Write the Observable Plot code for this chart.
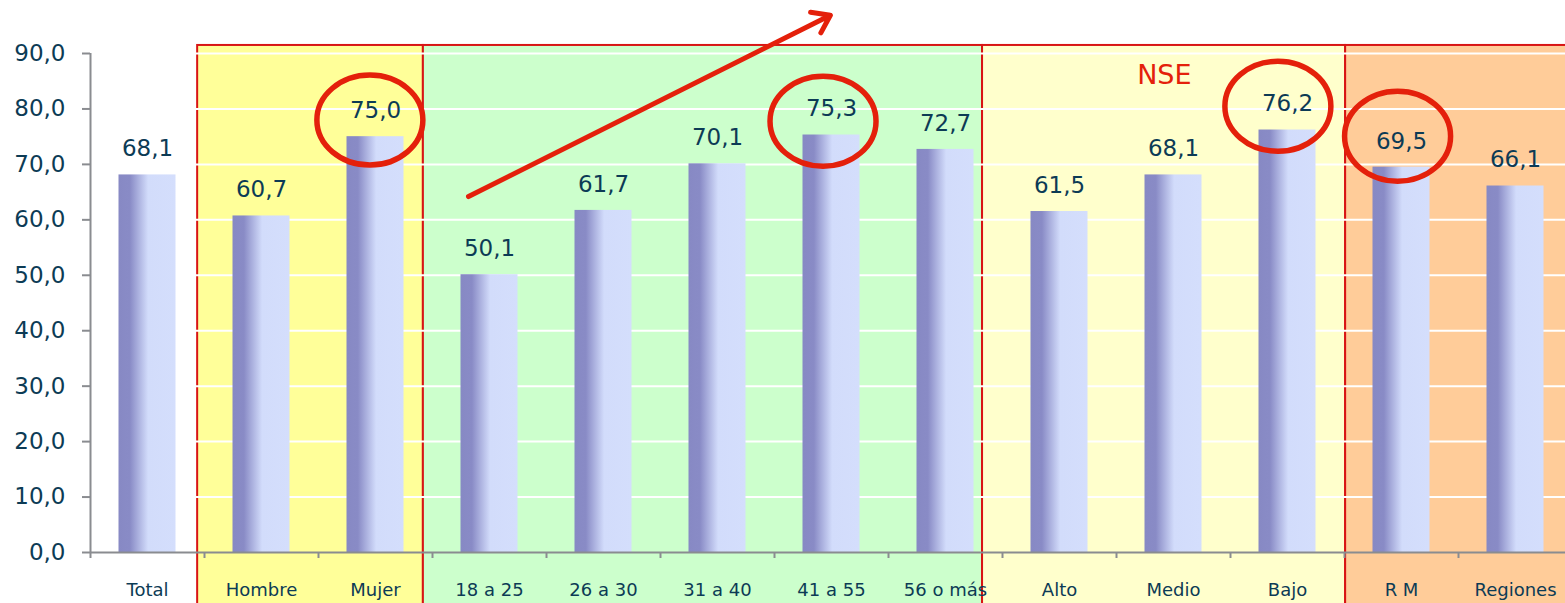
<!DOCTYPE html>
<html>
<head>
<meta charset="utf-8">
<script src="https://cdn.jsdelivr.net/npm/d3@7"></script>
<script src="https://cdn.jsdelivr.net/npm/@observablehq/plot@0.6"></script>
<style>
  html, body { margin: 0; padding: 0; background: #fff; overflow: hidden; }
  #chart svg { display: block; max-width: none !important; width: 1572px !important; height: 603px !important; }
</style>
</head>
<body>
<svg width="0" height="0" style="position:absolute">
  <defs>
    <linearGradient id="barGrad" x1="0" x2="1" y1="0" y2="0">
      <stop offset="0" stop-color="#8789c4"/>
      <stop offset="0.2" stop-color="#898bc6"/>
      <stop offset="0.52" stop-color="#d2dcfb"/>
      <stop offset="1" stop-color="#d4defc"/>
    </linearGradient>
  </defs>
</svg>
<div id="chart"></div>
<script>
// Categories and values
const categories = ["Total", "Hombre", "Mujer", "18 a 25", "26 a 30", "31 a 40", "41 a 55", "56 o más", "Alto", "Medio", "Bajo", "R M", "Regiones"];
const values = [68.1, 60.7, 75.0, 50.1, 61.7, 70.1, 75.3, 72.7, 61.5, 68.1, 76.2, 69.5, 66.1];
const yTicks = [0, 10, 20, 30, 40, 50, 60, 70, 80, 90];

// Group boxes (in category-index units)
const groupStart = [0.94, 2.92, 7.825, 11.01];
const groupEnd = [2.92, 7.825, 11.01, 13];
const groupFill = ["#ffff99", "#ccffcc", "#ffffcc", "#ffcc99"];

// Annotations
const circledCats = ["Mujer", "41 a 55", "Bajo", "R M"];
const circleX = [2.455, 6.43, 10.42, 11.47];
const circleY = [77.9, 77.7, 80.4, 75.0];
const arrowFrom = [3.316, 64.2];
const arrowTo = [6.49, 96.9];
const nseLabel = {text: "NSE", x: 9.42, y: 86.0};

const data = categories.map((c, i) => ({cat: c, i, value: values[i]}));
const groups = groupStart.map((s, k) => ({x1: s, x2: groupEnd[k], fill: groupFill[k]}));
const circles = circledCats.map((c, k) => ({cat: c, x: circleX[k], y: circleY[k]}));

const fmt = v => v.toFixed(1).replace(".", ",");
const RED = "#e4200b";
const TXT = "#0c3b55";
const GRAY = "#8a8c90";

const ellipseMark = (index, scales) => {
  const g = d3.create("svg:g");
  const xs = scales.x, ys = scales.y;
  for (const c of circles) {
    g.append("ellipse")
      .attr("cx", xs(c.x))
      .attr("cy", ys(c.y))
      .attr("rx", 53)
      .attr("ry", 45)
      .attr("fill", "none")
      .attr("stroke", RED)
      .attr("stroke-width", 5.5);
  }
  return g.node();
};

const plot = Plot.plot({
  width: 1572,
  height: 603,
  marginLeft: 90,
  marginRight: 0,
  marginTop: 53,
  marginBottom: 51,
  style: {fontFamily: "'DejaVu Sans', sans-serif", background: "transparent", overflow: "visible"},
  x: {type: "linear", domain: [0, 13], axis: null},
  y: {domain: [0, 90], axis: null},
  marks: [
    Plot.rect(groups, {x1: "x1", x2: "x2", y1: -10, y2: 91.45, fill: "fill", stroke: "#d81414", strokeWidth: 2}),
    Plot.ruleY(yTicks.filter(t => t > 0), {x1: 0, x2: 13, stroke: "#ffffff", strokeWidth: 2}),
    Plot.rectY(data, {x1: d => d.i + 0.25, x2: d => d.i + 0.75, y1: 0, y2: "value", fill: "url(#barGrad)"}),
    Plot.text(data, {x: d => d.i + 0.5, y: "value", text: d => fmt(d.value), dy: -26, fontSize: 23, fill: TXT}),
    Plot.text(data, {x: d => d.i + 0.5, y: 0, text: "cat", dy: 38, fontSize: 18, fill: TXT}),
    Plot.ruleY([0], {x1: 0, x2: 13, stroke: GRAY, strokeWidth: 2}),
    Plot.ruleX([0], {y1: 0, y2: 90, stroke: GRAY, strokeWidth: 2}),
    Plot.axisY({ticks: yTicks, tickSize: 8, tickPadding: 17, tickFormat: fmt, fontSize: 23, stroke: GRAY, strokeWidth: 2, fill: TXT}),
    Plot.axisX({ticks: d3.range(0, 14), tickSize: 6, tickFormat: () => "", stroke: GRAY, strokeWidth: 2}),
    Plot.text([nseLabel], {x: "x", y: "y", text: "text", fontSize: 27, fill: RED}),
    Plot.arrow([{x1: arrowFrom[0], y1: arrowFrom[1], x2: arrowTo[0], y2: arrowTo[1]}], {x1: "x1", y1: "y1", x2: "x2", y2: "y2", stroke: RED, strokeWidth: 5, headLength: 6, headAngle: 70}),
    ellipseMark
  ]
});
document.getElementById("chart").appendChild(plot);
</script>
</body>
</html>
